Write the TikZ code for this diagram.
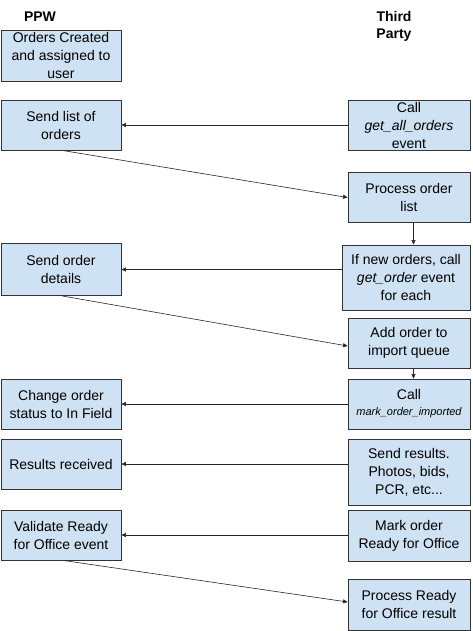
\documentclass[tikz,border=0pt]{standalone}
\usepackage{fontspec}
\setmainfont{Liberation Sans}
\usetikzlibrary{arrows.meta}
\definecolor{boxfill}{HTML}{CFE2F3}
\definecolor{edge}{HTML}{333333}
\begin{document}
\begin{tikzpicture}[x=1pt,y=-1pt,
  box/.style={draw=edge, line width=0.8pt, fill=boxfill, align=center,
    font=\fontsize{14}{18}\selectfont, inner sep=0pt},
  lbox/.style={box, minimum width=120pt},
  rbox/.style={box, minimum width=122pt},
  arr/.style={-{Triangle[length=4.5pt,width=4pt]}, line width=0.6pt, draw=black!85},
  hdr/.style={font=\bfseries\fontsize{14}{17}\selectfont, align=center, inner sep=0pt}]
\useasboundingbox (0,0) rectangle (472,631);

% headers
\node[hdr] (ppw) at (40,17) {PPW};
\node[hdr] (tp) at (394,26) {Third\\Party};

% left column
\node[lbox, minimum height=51pt] (oc)  at (61,55.5) {Orders Created\\and assigned to\\user};
\node[lbox, minimum height=50pt] (sl)  at (61,125)  {Send list of\\orders};
\node[lbox, minimum height=52pt] (sod) at (61,269.5) {Send order\\details};
\node[lbox, minimum height=50pt] (cos) at (61,404)  {Change order\\status to In Field};
\node[lbox, minimum height=50pt] (rr)  at (61,464)  {Results received};
\node[lbox, minimum height=50pt] (vr)  at (61,535)  {Validate Ready\\for Office event};

% right column
\node[rbox, minimum height=50pt] (cg)  at (409,125)   {Call\\{\itshape get\_all\_orders}\\event};
\node[rbox, minimum height=50pt] (pol) at (409,197.5) {Process order\\list};
\node[box, minimum width=128pt, minimum height=65pt] (ifn) at (406,277.5) {If new orders, call\\{\itshape get\_order} event\\for each};
\node[rbox, minimum height=50pt] (ao)  at (409,343)   {Add order to\\import queue};
\node[rbox, minimum height=50pt] (cm)  at (409,404)   {Call\\[-2pt]{\fontsize{11}{13}\selectfont\itshape mark\_order\_imported}};
\node[rbox, minimum height=66pt] (sr)  at (409,472)   {Send results.\\Photos, bids,\\PCR, etc...};
\node[rbox, minimum height=51pt] (mo)  at (409,535.5) {Mark order\\Ready for Office};
\node[rbox, minimum height=51pt] (pr)  at (409,604.5) {Process Ready\\for Office result};

% connectors
\draw[arr] (cg.west) -- (sl.east);
\draw[arr] ([xshift=1pt]sl.south) -- (pol.west);
\draw[arr] ([xshift=4.5pt]pol.south) -- ([xshift=4.5pt]pol.south |- ifn.north);
\draw[arr] (ifn.west |- sod.east) -- (sod.east);
\draw[arr] ([xshift=1pt]sod.south) -- ([yshift=-3pt]ao.west);
\draw[arr] ([xshift=4.5pt]ao.south) -- ([xshift=4.5pt]ao.south |- cm.north);
\draw[arr] (cm.west) -- (cos.east);
\draw[arr] (sr.west |- rr.east) -- (rr.east);
\draw[arr] (mo.west |- vr.east) -- (vr.east);
\draw[arr] ([xshift=2pt]vr.south) -- ([yshift=2.5pt]pr.west);
\end{tikzpicture}
\end{document}
